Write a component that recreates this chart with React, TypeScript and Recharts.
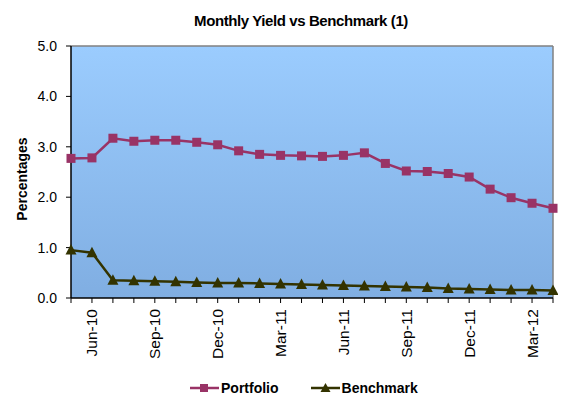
import React from 'react'
import { LineChart, Line, XAxis, YAxis, CartesianGrid, ReferenceLine } from 'recharts'

const months = [
  'May-10', 'Jun-10', 'Jul-10', 'Aug-10', 'Sep-10', 'Oct-10', 'Nov-10', 'Dec-10',
  'Jan-11', 'Feb-11', 'Mar-11', 'Apr-11', 'May-11', 'Jun-11', 'Jul-11', 'Aug-11',
  'Sep-11', 'Oct-11', 'Nov-11', 'Dec-11', 'Jan-12', 'Feb-12', 'Mar-12', 'Apr-12',
]
const portfolio = [
  2.77, 2.78, 3.17, 3.11, 3.13, 3.13, 3.09, 3.04, 2.92, 2.85, 2.83, 2.82,
  2.81, 2.83, 2.88, 2.67, 2.52, 2.51, 2.47, 2.40, 2.16, 1.99, 1.88, 1.78,
]
const benchmark = [
  0.95, 0.90, 0.35, 0.34, 0.33, 0.32, 0.31, 0.30, 0.30, 0.29, 0.28, 0.27,
  0.26, 0.25, 0.24, 0.23, 0.22, 0.21, 0.19, 0.18, 0.17, 0.16, 0.16, 0.15,
]
const labelMonths = ['Jun-10', 'Sep-10', 'Dec-10', 'Mar-11', 'Jun-11', 'Sep-11', 'Dec-11', 'Mar-12']
const yTicks = [0, 1, 2, 3, 4, 5]

const data = months.map((m, i) => ({ month: m, Portfolio: portfolio[i], Benchmark: benchmark[i] }))

const PLUM = '#993366'
const OLIVE = '#333300'
const FONT = '"Liberation Sans", Arial, sans-serif'

const SquareDot = (props: any) => {
  const { cx, cy, index } = props
  return <rect key={`s${index}`} x={cx - 4.5} y={cy - 4.5} width={9} height={9} fill={PLUM} />
}

const TriangleDot = (props: any) => {
  const { cx, cy, index } = props
  return (
    <polygon
      key={`t${index}`}
      points={`${cx},${cy - 6} ${cx - 5.5},${cy + 4.5} ${cx + 5.5},${cy + 4.5}`}
      fill={OLIVE}
    />
  )
}

const MonthTick = (props: any) => {
  const { x, y, payload } = props
  if (!labelMonths.includes(payload.value)) return <g />
  return (
    <text
      transform={`translate(${x},${y + 4}) rotate(-90)`}
      textAnchor="end"
      dominantBaseline="central"
      fontSize={15.5}
      fontFamily={FONT}
      fill="#000"
    >
      {payload.value}
    </text>
  )
}

export default function App() {
  return (
    <div style={{ position: 'relative', width: 566, height: 404, margin: -8, overflow: 'hidden', background: '#fff', fontFamily: FONT }}>
      <div style={{ position: 'absolute', left: 6, top: 4, width: 620, height: 500, border: '2px solid #a6a6a6' }} />
      <div style={{ position: 'absolute', left: 0, top: 12, width: 602, textAlign: 'center', fontSize: 15, fontWeight: 'bold', letterSpacing: -0.4 }}>
        Monthly Yield vs Benchmark (1)
      </div>
      <div
        style={{
          position: 'absolute', left: 22, top: 179, fontSize: 14, fontWeight: 'bold',
          transform: 'translate(-50%, -50%) rotate(-90deg)', whiteSpace: 'nowrap',
        }}
      >
        Percentages
      </div>
      <div style={{ position: 'absolute', left: 0, top: 0 }}>
        <LineChart width={566} height={404} data={data} margin={{ top: 46, right: 13, left: 0, bottom: 0 }}>
          <defs>
            <linearGradient id="plotBg" x1="0" y1="0" x2="0" y2="1">
              <stop offset="0%" stopColor="#9bccfe" />
              <stop offset="100%" stopColor="#80aee2" />
            </linearGradient>
          </defs>
          <CartesianGrid fill="url(#plotBg)" stroke="none" horizontal={false} vertical={false} />
          <ReferenceLine y={5} stroke="#808080" strokeWidth={1.5} />
          <ReferenceLine x="Apr-12" stroke="#808080" strokeWidth={1.5} />
          <XAxis
            dataKey="month"
            interval={0}
            height={106}
            tickSize={5}
            tick={<MonthTick />}
            axisLine={{ stroke: '#000', strokeWidth: 1.5 }}
            tickLine={{ stroke: '#000' }}
          />
          <YAxis
            width={71}
            domain={[0, 5]}
            ticks={yTicks}
            tickFormatter={(v: number) => v.toFixed(1)}
            tickSize={5}
            tickMargin={9}
            tick={{ fontSize: 14, fill: '#000', fontFamily: FONT }}
            axisLine={{ stroke: '#000', strokeWidth: 1.5 }}
            tickLine={{ stroke: '#000' }}
          />
          <Line dataKey="Benchmark" stroke={OLIVE} strokeWidth={2.5} dot={TriangleDot} isAnimationActive={false} />
          <Line dataKey="Portfolio" stroke={PLUM} strokeWidth={2.5} dot={SquareDot} isAnimationActive={false} />
        </LineChart>
      </div>
      <div style={{ position: 'absolute', left: 190, top: 380, display: 'flex', alignItems: 'center', fontSize: 14, fontWeight: 'bold' }}>
        <svg width={29} height={16}>
          <line x1={0} y1={8} x2={29} y2={8} stroke={PLUM} strokeWidth={2.5} />
          <rect x={10} y={4} width={8} height={8} fill={PLUM} />
        </svg>
        <span style={{ marginLeft: 2 }}>Portfolio</span>
        <svg width={29} height={16} style={{ marginLeft: 32 }}>
          <line x1={0} y1={8} x2={29} y2={8} stroke={OLIVE} strokeWidth={2.5} />
          <polygon points="14.5,3 9.5,12 19.5,12" fill={OLIVE} />
        </svg>
        <span style={{ marginLeft: 2 }}>Benchmark</span>
      </div>
    </div>
  )
}
